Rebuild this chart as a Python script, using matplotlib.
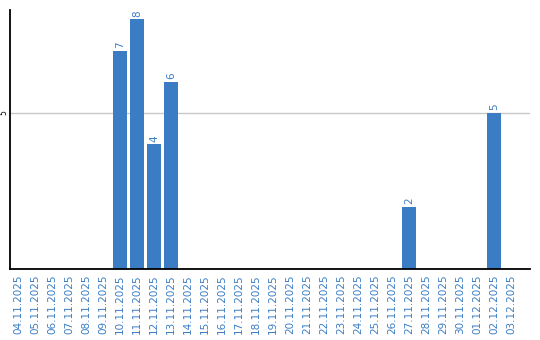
import matplotlib.pyplot as plt
import numpy as np

dates = ['04.11.2025', '05.11.2025', '06.11.2025', '07.11.2025', '08.11.2025',
         '09.11.2025', '10.11.2025', '11.11.2025', '12.11.2025', '13.11.2025',
         '14.11.2025', '15.11.2025', '16.11.2025', '17.11.2025', '18.11.2025',
         '19.11.2025', '20.11.2025', '21.11.2025', '22.11.2025', '23.11.2025',
         '24.11.2025', '25.11.2025', '26.11.2025', '27.11.2025', '28.11.2025',
         '29.11.2025', '30.11.2025', '01.12.2025', '02.12.2025', '03.12.2025']
counts = [0, 0, 0, 0, 0, 0, 7, 8, 4, 6, 0, 0, 0, 0, 0, 0, 0, 0, 0, 0,
          0, 0, 0, 2, 0, 0, 0, 0, 5, 0]

blue = '#3b7dc4'
x = np.arange(len(dates))

fig = plt.figure(figsize=(5.4, 3.4), dpi=100)
ax = fig.add_axes([0.0185, 0.2088, 0.963, 0.7618])

ax.bar(x, counts, 0.82, color=blue, zorder=2)
for xi, c in zip(x, counts):
    if c > 0:
        ax.text(xi, c + 0.08, str(c), rotation=90, ha='center', va='bottom',
                color=blue, fontsize=7.5)

ax.set_xlim(-0.47, 30.12)
ax.set_ylim(0, 8.3)
ax.set_xticks(x)
ax.set_xticklabels(dates, rotation=90, color=blue, fontsize=7.5)
ax.set_yticks([5])
ax.set_yticklabels(['5'], rotation=90, fontsize=5.5, va='center')
ax.tick_params(length=0)
ax.tick_params(axis='x', pad=4)
ax.tick_params(axis='y', pad=1.5)
ax.grid(axis='y', color='#c8c8c8', linewidth=1, zorder=0)

for s in ['top', 'right']:
    ax.spines[s].set_visible(False)
ax.spines['left'].set_linewidth(1.3)
ax.spines['bottom'].set_linewidth(1.3)

plt.savefig('out.png', dpi=100)
plt.close()
